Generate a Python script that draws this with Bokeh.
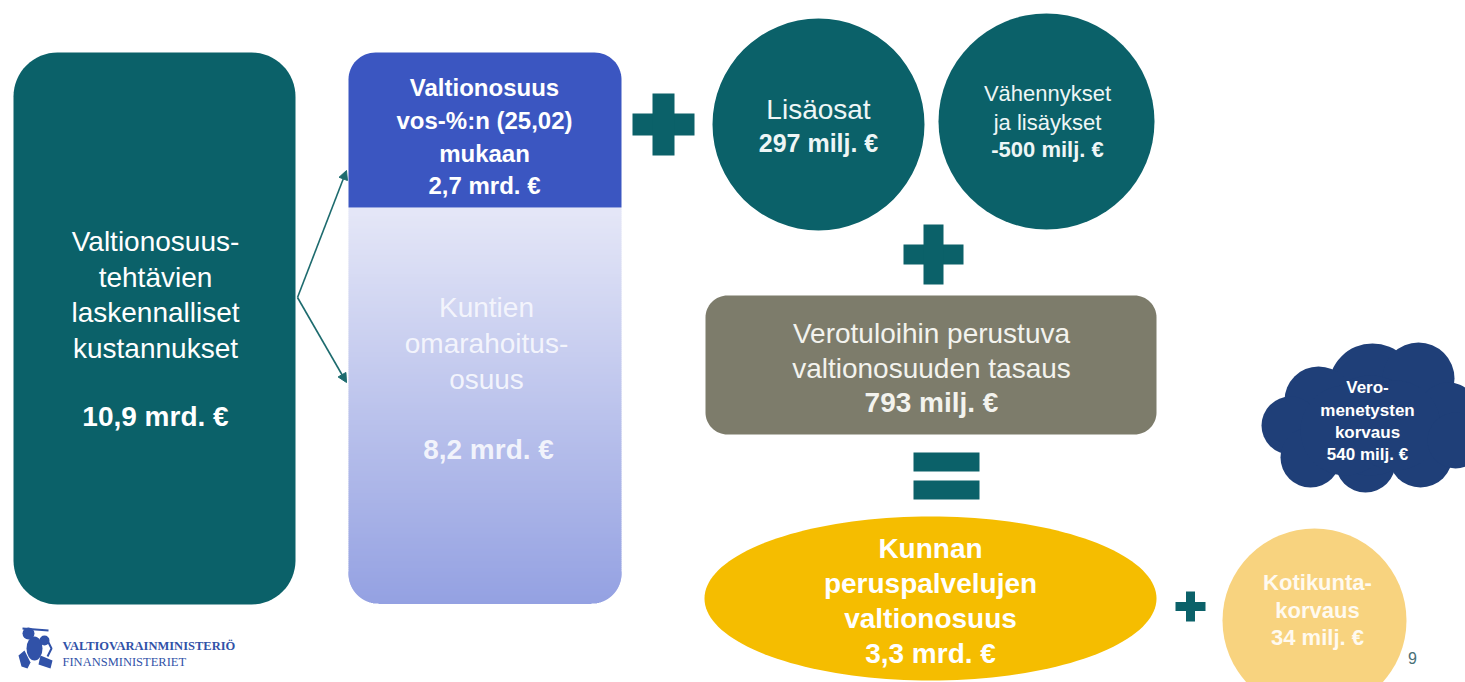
import math
from bokeh.plotting import figure
from bokeh.models import Range1d, Arrow, NormalHead
from bokeh.core.properties import value
from bokeh.embed import file_html
from bokeh.resources import INLINE

# ---------------- content (texts and amounts) ----------------
costs_lines = ["Valtionosuus-", "tehtävien", "laskennalliset", "kustannukset"]
costs_amount = "10,9 mrd. €"

state_share_lines = ["Valtionosuus", "vos-%:n (25,02)", "mukaan"]
state_share_amount = "2,7 mrd. €"

own_share_lines = ["Kuntien", "omarahoitus-", "osuus"]
own_share_amount = "8,2 mrd. €"

extra_lines = ["Lisäosat"]
extra_amount = "297 milj. €"

adjust_lines = ["Vähennykset", "ja lisäykset"]
adjust_amount = "-500 milj. €"

equal_lines = ["Verotuloihin perustuva", "valtionosuuden tasaus"]
equal_amount = "793 milj. €"

result_lines = ["Kunnan", "peruspalvelujen", "valtionosuus"]
result_amount = "3,3 mrd. €"

home_lines = ["Kotikunta-", "korvaus"]
home_amount = "34 milj. €"

tax_lines = ["Vero-", "menetysten", "korvaus"]
tax_amount = "540 milj. €"

ministry_names = ["VALTIOVARAINMINISTERIÖ", "FINANSMINISTERIET"]
page_number = "9"

# ---------------- styles ----------------
TEAL = "#0b6169"
BLUE = "#3b56c1"
GREY = "#7d7c6b"
YELLOW = "#f5bd00"
LIGHT_YELLOW = "#f8d37f"
NAVY = "#1f3f78"
FONT = "Liberation Sans"

p = figure(width=1465, height=682, x_range=Range1d(0, 1465), y_range=Range1d(682, 0),
           x_axis_type=None, y_axis_type=None, toolbar_location=None,
           output_backend="svg", min_border=0)
p.outline_line_color = None
p.background_fill_color = "white"
p.border_fill_color = "white"


def rrect(x0, y0, x1, y1, rtl, rtr, rbr, rbl, n=16):
    xs, ys = [], []
    corners = [((x0 + rtl, y0 + rtl), rtl, 180), ((x1 - rtr, y0 + rtr), rtr, 270),
               ((x1 - rbr, y1 - rbr), rbr, 0), ((x0 + rbl, y1 - rbl), rbl, 90)]
    for (cx, cy), r, a0 in corners:
        for i in range(n + 1):
            a = math.radians(a0 + 90 * i / n)
            xs.append(cx + r * math.cos(a))
            ys.append(cy + r * math.sin(a))
    return xs, ys


def ellipse_pts(cx, cy, rx, ry, n=160):
    xs = [cx + rx * math.cos(2 * math.pi * i / n) for i in range(n)]
    ys = [cy + ry * math.sin(2 * math.pi * i / n) for i in range(n)]
    return xs, ys


def lines_text(cx, y0, lines, size, spacing, bold=False, color="white", alpha=1.0):
    ys = [y0 + i * spacing for i in range(len(lines))]
    p.text(x=[cx] * len(lines), y=ys, text=lines, text_align="center",
           text_baseline="middle", text_font=value(FONT), text_font_size=f"{size}px",
           text_font_style="bold" if bold else "normal", text_color=color, text_alpha=alpha)


def plus(cx, cy, arm, thick, color=TEAL):
    p.quad(left=[cx - arm, cx - thick / 2], right=[cx + arm, cx + thick / 2],
           top=[cy - thick / 2, cy - arm], bottom=[cy + thick / 2, cy + arm],
           fill_color=color, line_color=None)


# ---------------- left box ----------------
xs, ys = rrect(13, 52, 295, 604, 44, 44, 44, 44)
p.patch(xs, ys, fill_color=TEAL, line_color=None)
lines_text(155, 241, costs_lines, 28, 35.5)
lines_text(155, 416, [costs_amount], 28, 0, bold=True)

# arrows
for ye in (170, 382):
    p.add_layout(Arrow(end=NormalHead(size=9, fill_color="#1d6b6e", line_color="#1d6b6e"),
                       x_start=297, y_start=297, x_end=346, y_end=ye,
                       line_color="#1d6b6e", line_width=1.6))

# ---------------- middle column ----------------
MX0, MX1, MTOP, MSPLIT, MBOT, MR = 348, 621, 52, 207, 603, 30
c_top = (229, 231, 247)
c_bot = (148, 161, 226)
lefts, rights, tops, bots, cols = [], [], [], [], []
yy = MSPLIT
while yy < MBOT:
    step = 2.0 if yy < MBOT - MR - 2 else 0.5
    y_end = min(yy + step, MBOT)
    ym = y_end if y_end > MBOT - MR else (yy + y_end) / 2
    inset = 0.0
    if ym > MBOT - MR:
        dy = ym - (MBOT - MR)
        inset = MR - math.sqrt(max(MR * MR - dy * dy, 0))
    t = (ym - MSPLIT) / (MBOT - MSPLIT)
    c = tuple(int(round(c_top[k] + (c_bot[k] - c_top[k]) * t)) for k in range(3))
    lefts.append(MX0 + inset)
    rights.append(MX1 - inset)
    tops.append(yy)
    bots.append(y_end + 0.4)
    cols.append("#%02x%02x%02x" % c)
    yy = y_end
p.quad(left=lefts, right=rights, top=tops, bottom=bots, fill_color=cols, line_color=None)

xs, ys = rrect(MX0, MTOP, MX1, MSPLIT, 27, 27, 0, 0)
p.patch(xs, ys, fill_color=BLUE, line_color=None)
lines_text(484, 87, state_share_lines, 24, 33, bold=True)
lines_text(484, 185, [state_share_amount], 24, 0, bold=True)

lines_text(486, 307, own_share_lines, 28, 36, color="#f6f7fd", alpha=0.95)
lines_text(488, 449, [own_share_amount], 28, 0, bold=True, color="#f6f7fd", alpha=0.95)

# ---------------- plus signs ----------------
plus(663, 124, 31, 22)
plus(933, 254, 30, 20)
plus(1190, 606, 15, 9)

# ---------------- circles ----------------
p.circle(x=[818, 1046], y=[124, 121], radius=[106, 108], fill_color=TEAL, line_color=None)
lines_text(818, 109, extra_lines, 28, 0, color="#eef6f6")
lines_text(818, 142, [extra_amount], 25, 0, bold=True, color="#eef6f6")
lines_text(1047, 93, adjust_lines, 22, 29, color="#eef6f6")
lines_text(1047, 149, [adjust_amount], 22, 0, bold=True, color="#eef6f6")

# ---------------- grey box ----------------
xs, ys = rrect(705, 295, 1156, 434, 22, 22, 22, 22)
p.patch(xs, ys, fill_color=GREY, line_color=None)
lines_text(931, 333, equal_lines, 28, 35, color="#f3f3ee")
lines_text(931, 402, [equal_amount], 28, 0, bold=True, color="#f3f3ee")

# equals
p.quad(left=[913, 913], right=[979, 979], top=[452, 480], bottom=[471, 499],
       fill_color=TEAL, line_color=None)

# ---------------- result ellipse ----------------
xs, ys = ellipse_pts(930, 598, 226, 82)
p.patch(xs, ys, fill_color=YELLOW, line_color=None)
lines_text(930, 548, result_lines, 28, 35, bold=True)
lines_text(930, 653, [result_amount], 28, 0, bold=True)

# home municipality circle
p.circle(x=[1314], y=[620], radius=[92], fill_color=LIGHT_YELLOW, line_color=None)
lines_text(1317, 582, home_lines, 22, 27.5, bold=True, color="#fffaf0")
lines_text(1317, 637, [home_amount], 22, 0, bold=True, color="#fffaf0")

# ---------------- cloud ----------------
cloud_x = [1372, 1318, 1418, 1290, 1310, 1365, 1420, 1448, 1370, 1345, 1395, 1455]
cloud_y = [387, 400, 378, 425, 457, 462, 455, 412, 425, 430, 425, 440]
cloud_r = [44, 34, 36, 29, 30, 30, 32, 30, 50, 45, 45, 28]
p.circle(x=cloud_x, y=cloud_y, radius=cloud_r, fill_color=NAVY, line_color=None)
lines_text(1367, 387, tax_lines, 17, 22.5, bold=True)
lines_text(1367, 454, [tax_amount], 17, 0, bold=True)

# ---------------- page number ----------------
p.text(x=[1412], y=[657], text=[page_number], text_align="center", text_baseline="middle",
       text_font=value(FONT), text_font_size="16px", text_color="#4a7077")

# ---------------- logo ----------------
LOGO = "#3152a8"
p.ellipse(x=[34], y=[648], width=[16], height=[24], fill_color=LOGO, line_color=None)
p.circle(x=[28, 44], y=[633, 640], radius=[6, 5], fill_color=LOGO, line_color=None)
p.patch([18, 24, 30, 27, 21], [655, 650, 662, 668, 666], fill_color=LOGO, line_color=None)
p.patch([40, 52, 50, 38], [655, 660, 668, 664], fill_color=LOGO, line_color=None)
p.line([22, 48], [628, 630], line_color=LOGO, line_width=2)
p.line([47, 51, 47], [640, 648, 656], line_color=LOGO, line_width=2)
p.text(x=[62, 62], y=[645, 661], text=ministry_names, text_align="left",
       text_baseline="middle", text_font=value("Liberation Serif"),
       text_font_size="12.5px", text_font_style=["bold", "normal"], text_color=LOGO)

open("out.html", "w").write(file_html(p, INLINE))
